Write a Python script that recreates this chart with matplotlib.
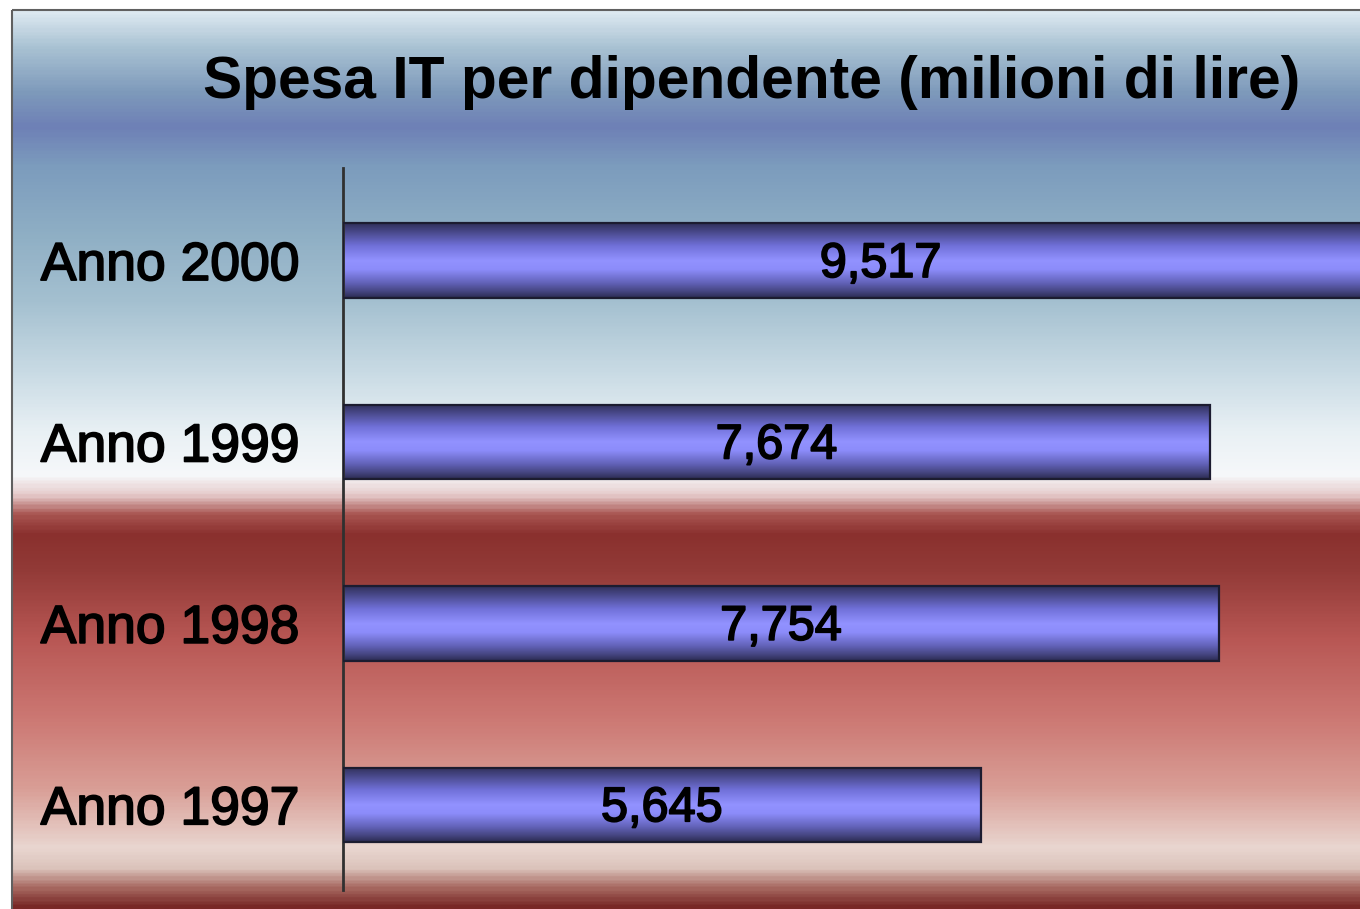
import matplotlib

matplotlib.use("Agg")
import matplotlib.patheffects as pe
import matplotlib.pyplot as plt
import numpy as np
from matplotlib.colors import LinearSegmentedColormap
from matplotlib.patches import Rectangle

plt.rcParams["font.family"] = ["Liberation Sans", "DejaVu Sans"]

# data
years = ["Anno 2000", "Anno 1999", "Anno 1998", "Anno 1997"]
spesa = [9.517, 7.674, 7.754, 5.645]
value_labels = ["9,517", "7,674", "7,754", "5,645"]
title = "Spesa IT per dipendente (milioni di lire)"

W, H = 1360, 909

# background stops: (pixel y, colour)
bg_stops = [
    (10, "#dce8f0"), (45, "#a9c2d3"), (90, "#7e9abb"), (125, "#6e80b6"),
    (165, "#7c9cbd"), (230, "#8eaec4"), (300, "#a4c0d0"), (370, "#c8dae4"),
    (430, "#e8f0f4"), (475, "#f6f8fa"), (495, "#e6cccc"), (515, "#a85450"),
    (535, "#8a302e"), (570, "#923a37"), (640, "#b85754"), (720, "#cc7873"),
    (790, "#d99e96"), (850, "#e9d6d0"), (870, "#dcc4bc"), (890, "#a86a62"),
    (909, "#782826"),
]
bar_cmap = LinearSegmentedColormap.from_list("bar", [
    (0.0, "#30305a"), (0.12, "#4a4a8c"), (0.3, "#7070d8"), (0.5, "#9292ff"),
    (0.62, "#8c8cfa"), (0.8, "#6262b8"), (0.92, "#44447e"), (1.0, "#2c2c52"),
])
thick = [pe.withStroke(linewidth=1.3, foreground="black")]

fig = plt.figure(figsize=(W / 100, H / 100), dpi=100)
fig.patch.set_facecolor("white")

# background panel
bg = fig.add_axes([0, 0, 1, 1], zorder=0)
bg.set_xlim(0, W)
bg.set_ylim(H, 0)
bg.axis("off")
y0 = bg_stops[0][0]
span = bg_stops[-1][0] - y0
bg_cmap = LinearSegmentedColormap.from_list(
    "bg", [((p - y0) / span, c) for p, c in bg_stops])
grad = np.linspace(0, 1, 600).reshape(-1, 1)
bg.imshow(grad, cmap=bg_cmap, aspect="auto", extent=(12, W, H, 10),
          interpolation="bilinear")
bg.add_patch(Rectangle((12, 10), W, H, fill=False, edgecolor="#606060", lw=1.5))

# title
fig.text(752 / W, 1 - 83 / H, title, ha="center", va="center",
         fontsize=42.3, fontweight="bold", color="black")

# bar axes
ax = fig.add_axes([343 / W, 1 - 890 / H, 1 - 343 / W, (890 - 168) / H], zorder=1)
ax.patch.set_alpha(0)
ypos = np.arange(len(years))
bars = ax.barh(ypos, spesa, height=0.41, facecolor="none",
               edgecolor="#1c1c30", linewidth=1.6, zorder=3)
ax.set_xlim(0, 9.0)
ax.set_ylim(3.47, -0.51)

gbar = np.linspace(0, 1, 200).reshape(-1, 1)
for b, lab in zip(bars, value_labels):
    x, y, w, h = b.get_x(), b.get_y(), b.get_width(), b.get_height()
    im = ax.imshow(gbar, cmap=bar_cmap, aspect="auto", extent=(x, x + w, y + h, y),
                   interpolation="bilinear", zorder=2)
    im.set_clip_path(b)
    ax.text(x + w / 2, y + h / 2 + 0.022, lab, ha="center", va="center",
            fontsize=35, color="black", zorder=4, path_effects=thick)

ax.set_yticks(ypos)
ax.set_yticklabels(years, fontsize=38.5)
for t in ax.get_yticklabels():
    t.set_path_effects(thick)
ax.tick_params(axis="y", length=0, pad=31)
ax.set_xticks([])
for s in ("top", "right", "bottom"):
    ax.spines[s].set_visible(False)
ax.spines["left"].set_color("#303030")
ax.spines["left"].set_linewidth(2)

fig.savefig("out.png", dpi=100)
